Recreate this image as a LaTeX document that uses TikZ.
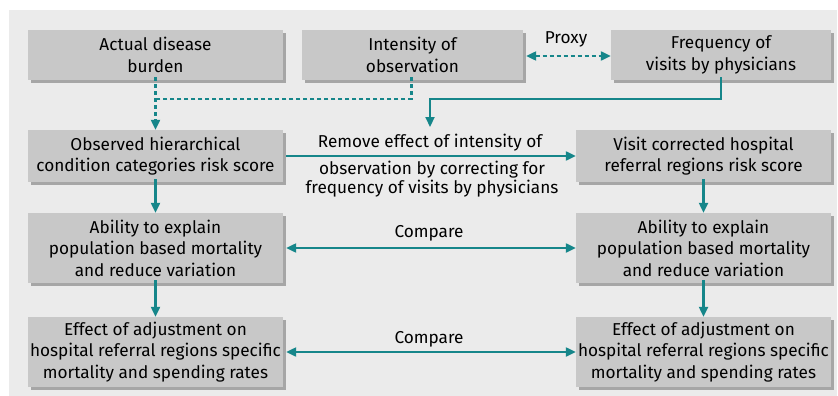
\documentclass[tikz,border=0pt]{standalone}
\usepackage{fontspec}
\setmainfont{Fira Sans}
\usetikzlibrary{arrows.meta}
\definecolor{panel}{HTML}{EBEBEB}
\definecolor{boxfill}{HTML}{C8C8C8}
\definecolor{boxshadow}{HTML}{A6A6A6}
\definecolor{teal}{HTML}{16868A}
\tikzset{
  tip/.tip={Triangle[length=10pt,width=9pt]},
  box/.style={fill=boxfill, inner sep=0pt, align=center,
    font=\fontsize{17.2}{21.5}\selectfont},
  conn/.style={draw=teal, line width=2.2pt, -tip},
  dconn/.style={draw=teal, line width=2.2pt, dash pattern=on 4pt off 3pt},
  lbl/.style={font=\fontsize{17.2}{18.5}\selectfont, align=center, inner sep=0pt}
}
\newcommand{\mybox}[6]{% name, x1, y1, x2, y2, text
  \fill[boxshadow] (#2+3,#3+3) rectangle (#4+3,#5+3);
  \node[box, minimum width={(#4-#2)*1pt}, minimum height={(#5-#3)*1pt}] (#1) at ({(#2+#4)/2},{(#3+#5)/2}) {#6};
}
\begin{document}
\begin{tikzpicture}[x=1pt,y=-1pt]
\useasboundingbox (0,0) rectangle (838,396);
\fill[panel] (9,10) rectangle (837,396);
\mybox{A}{28}{30}{283}{80}{Actual disease\\burden}
\mybox{B}{302}{30}{523}{80}{Intensity of\\observation}
\mybox{C}{611}{30}{831}{80}{Frequency of\\visits by physicians}
\mybox{obs}{28}{130}{283}{182}{Observed hierarchical\\condition categories risk score}
\mybox{vis}{576}{130}{831}{182}{Visit corrected hospital\\referral regions risk score}
\mybox{abl}{28}{213}{283}{283}{Ability to explain\\population based mortality\\and reduce variation}
\mybox{abr}{576}{213}{831}{283}{Ability to explain\\population based mortality\\and reduce variation}
\mybox{efl}{28}{317}{283}{387}{Effect of adjustment on\\hospital referral regions specific\\mortality and spending rates}
\mybox{efr}{576}{317}{831}{387}{Effect of adjustment on\\hospital referral regions specific\\mortality and spending rates}
% proxy
\coordinate (pb) at ([yshift=-1pt]B.east);
\draw[dconn, tip-tip] ([xshift=3pt]pb) -- (pb -| C.west);
\node[lbl] (proxy) at (566,39) {Proxy};
% dashed merge
\coordinate (jA) at (155.5,99);
\draw[dconn] ([xshift=-1pt,yshift=3pt]B.south) |- (jA);
\draw[dconn, -tip] ([yshift=3pt]A.south) -- (obs.north);
% frequency path
\coordinate (jC) at (430,99);
\coordinate (remtop) at (430,127);
\node[lbl] (rem1) at (430,143) {Remove effect of intensity of};
\node[lbl] (rem2) at (432,179) {observation by correcting for\\frequency of visits by physicians};
\draw[conn] ([yshift=3pt]C.south) |- (jC) -- (remtop);
\draw[conn] ([xshift=3pt]obs.east) -- (vis.west);
% down arrows
\draw[conn] ([yshift=3pt]obs.south) -- (abl.north);
\draw[conn] ([yshift=3pt]vis.south) -- (abr.north);
\draw[conn] ([yshift=3pt]abl.south) -- (efl.north);
\draw[conn] ([yshift=3pt]abr.south) -- (efr.north);
% compare
\draw[conn, tip-tip] ([xshift=3pt]abl.east) -- (abr.west);
\node[lbl] (cmp1) at (429,233) {Compare};
\draw[conn, tip-tip] ([xshift=3pt]efl.east) -- (efr.west);
\node[lbl] (cmp2) at (429,339) {Compare};
\end{tikzpicture}
\end{document}
